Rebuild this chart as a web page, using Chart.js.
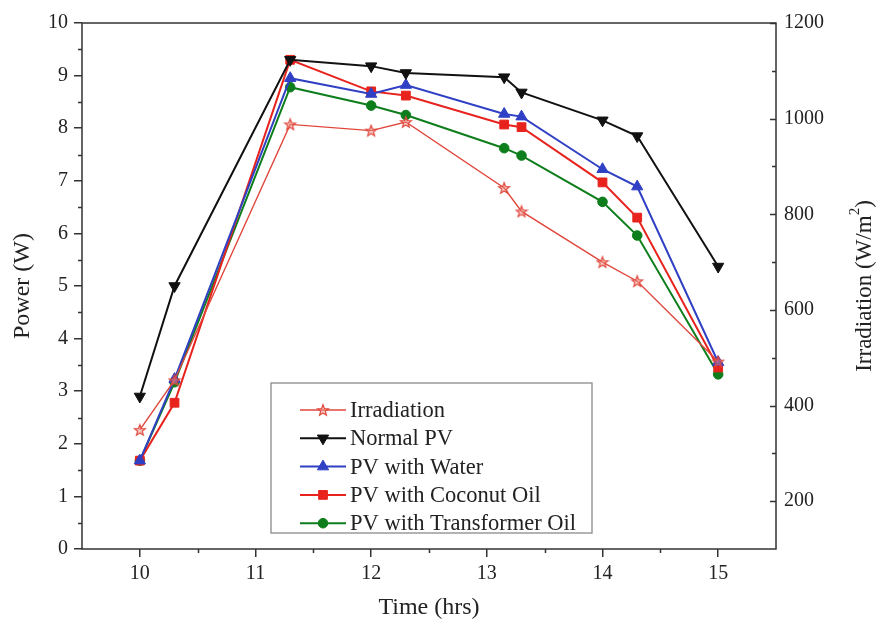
<!DOCTYPE html>
<html>
<head>
<meta charset="utf-8">
<script src="https://cdn.jsdelivr.net/npm/chart.js"></script>
<style>
  html, body { margin: 0; padding: 0; background: #fff; }
</style>
</head>
<body>
<canvas id="myChart" width="880" height="625"></canvas>
<script>
// time of day (hrs)
const times = [10, 10.3, 11.3, 12, 12.3, 13.15, 13.3, 14, 14.3, 15];
// power (W)
const normalPV = [2.9, 5.0, 9.3, 9.18, 9.05, 8.97, 8.68, 8.15, 7.85, 5.37];
const pvWater = [1.68, 3.23, 8.95, 8.65, 8.82, 8.27, 8.22, 7.22, 6.89, 3.55];
const pvCoconut = [1.68, 2.78, 9.3, 8.7, 8.62, 8.07, 8.02, 6.97, 6.3, 3.45];
const pvTransformer = [1.68, 3.17, 8.78, 8.43, 8.25, 7.62, 7.48, 6.6, 5.96, 3.32];
// irradiation (W/m2), right axis
const irradiation = [349, 453, 988, 975, 993, 855, 806, 700, 660, 492];

const xTicks = [10, 11, 12, 13, 14, 15];
const powerTicks = [0, 1, 2, 3, 4, 5, 6, 7, 8, 9, 10];
const irrTicks = [200, 400, 600, 800, 1000, 1200];

const serif = '"Liberation Serif", "Times New Roman", serif';
const axisColor = '#333';
const textColor = '#222';
const titleSize = 24;

function pts(values) {
  return times.map((t, i) => ({ x: t, y: values[i] }));
}

function makeStar(color) {
  const c = document.createElement('canvas');
  c.width = 14; c.height = 14;
  const g = c.getContext('2d');
  g.beginPath();
  for (let i = 0; i < 10; i++) {
    const r = i % 2 ? 2.4 : 5.8;
    const a = -Math.PI / 2 + i * Math.PI / 5;
    g.lineTo(7 + r * Math.cos(a), 7.5 + r * Math.sin(a));
  }
  g.closePath();
  g.fillStyle = 'rgba(240,150,140,0.45)';
  g.fill();
  g.strokeStyle = color;
  g.lineWidth = 1.2;
  g.stroke();
  return c;
}

const irrColor = '#e0473c';
const starImg = makeStar(irrColor);

const series = [
  { label: 'Irradiation', data: irradiation, axis: 'y2', color: irrColor, width: 1.4, style: starImg, radius: 6, rot: 0 },
  { label: 'Normal PV', data: normalPV, axis: 'y', color: '#111111', width: 2, style: 'triangle', radius: 6.5, rot: 180 },
  { label: 'PV with Water', data: pvWater, axis: 'y', color: '#3040c4', width: 2, style: 'triangle', radius: 6.5, rot: 0 },
  { label: 'PV with Coconut Oil', data: pvCoconut, axis: 'y', color: '#e8231e', width: 2, style: 'rect', radius: 6.2, rot: 0 },
  { label: 'PV with Transformer Oil', data: pvTransformer, axis: 'y', color: '#0e7e1c', width: 2, style: 'circle', radius: 4.8, rot: 0 }
];

function drawMarker(ctx, s, x, y) {
  if (typeof s.style !== 'string') {
    ctx.drawImage(s.style, x - s.style.width / 2, y - s.style.height / 2);
    return;
  }
  ctx.fillStyle = s.color;
  ctx.strokeStyle = s.color;
  ctx.lineWidth = 1;
  Chart.helpers.drawPoint(ctx, { pointStyle: s.style, rotation: s.rot, radius: s.radius, borderWidth: 1 }, x, y);
}

const extras = {
  id: 'extras',
  afterDraw(chart) {
    const { ctx, chartArea: a, scales } = chart;
    ctx.save();
    ctx.strokeStyle = axisColor;
    ctx.lineWidth = 1.5;
    ctx.beginPath();
    // minor ticks, left axis
    for (let v = 0.5; v < 10; v += 1) {
      const py = Math.round(scales.y.getPixelForValue(v)) + 0.5;
      ctx.moveTo(a.left, py); ctx.lineTo(a.left - 4, py);
    }
    // minor ticks, bottom axis
    for (let v = 10.5; v < 15.5; v += 1) {
      const px = Math.round(scales.x.getPixelForValue(v)) + 0.5;
      ctx.moveTo(px, a.bottom); ctx.lineTo(px, a.bottom + 4);
    }
    // inward ticks, right axis
    for (let v = 200; v <= 1200; v += 100) {
      const py = Math.round(scales.y2.getPixelForValue(v)) + 0.5;
      ctx.moveTo(a.right, py); ctx.lineTo(a.right - (v % 200 === 0 ? 6 : 4), py);
    }
    ctx.stroke();
    // frame
    ctx.strokeRect(a.left, a.top, a.right - a.left, a.bottom - a.top);

    // right axis title, reading bottom to top
    ctx.fillStyle = textColor;
    ctx.translate(865, (a.top + a.bottom) / 2);
    ctx.rotate(-Math.PI / 2);
    ctx.textBaseline = 'middle';
    const big = '23px ' + serif, small = '15px ' + serif;
    const p1 = 'Irradiation (W/m', p2 = '2', p3 = ')';
    ctx.font = big; const w1 = ctx.measureText(p1).width, w3 = ctx.measureText(p3).width;
    ctx.font = small; const w2 = ctx.measureText(p2).width;
    let tx = -(w1 + w2 + w3) / 2;
    ctx.textAlign = 'left';
    ctx.font = big; ctx.fillText(p1, tx, 0); tx += w1;
    ctx.font = small; ctx.fillText(p2, tx, -10); tx += w2;
    ctx.font = big; ctx.fillText(p3, tx, 0);
    ctx.setTransform(1, 0, 0, 1, 0, 0);

    // legend box
    const bx = a.left + 189, by = a.top + 360, bw = 321, bh = 150;
    ctx.fillStyle = '#fff';
    ctx.fillRect(bx, by, bw, bh);
    ctx.strokeStyle = '#8a8a8a';
    ctx.lineWidth = 1.3;
    ctx.strokeRect(bx, by, bw, bh);
    ctx.font = '22.5px ' + serif;
    ctx.textAlign = 'left';
    ctx.textBaseline = 'middle';
    series.forEach((s, i) => {
      const ry = by + 27 + i * 28.3;
      ctx.strokeStyle = s.color;
      ctx.lineWidth = s.width;
      ctx.beginPath();
      ctx.moveTo(bx + 29, ry); ctx.lineTo(bx + 75, ry);
      ctx.stroke();
      drawMarker(ctx, s, bx + 52, ry);
      ctx.fillStyle = textColor;
      ctx.fillText(s.label, bx + 79, ry + 1);
    });
    ctx.restore();
  }
};

const config = {
  type: 'line',
  data: {
    datasets: series.map(s => ({
      label: s.label,
      data: pts(s.data),
      yAxisID: s.axis,
      borderColor: s.color,
      backgroundColor: s.color,
      borderWidth: s.width,
      pointStyle: s.style,
      pointRadius: s.radius,
      pointRotation: s.rot,
      pointBackgroundColor: s.color,
      pointBorderColor: s.color,
      pointBorderWidth: 1,
      tension: 0,
      fill: false
    }))
  },
  options: {
    responsive: false,
    animation: false,
    layout: { padding: { top: 23, left: 0, right: 0, bottom: 0 } },
    plugins: { legend: { display: false }, tooltip: { enabled: false } },
    scales: {
      x: {
        type: 'linear',
        min: 9.5,
        max: 15.5,
        afterBuildTicks: s => { s.ticks = xTicks.map(v => ({ value: v })); },
        afterFit: s => { s.height = 76; },
        border: { display: false },
        grid: { drawOnChartArea: false, tickLength: 8, color: axisColor, lineWidth: 1.5 },
        ticks: { color: textColor, font: { family: serif, size: 20 }, padding: 5, maxRotation: 0 },
        title: { display: true, text: 'Time (hrs)', color: textColor, font: { family: serif, size: titleSize }, padding: { top: 0, bottom: 3 } }
      },
      y: {
        position: 'left',
        min: 0,
        max: 10,
        afterBuildTicks: s => { s.ticks = powerTicks.map(v => ({ value: v })); },
        afterFit: s => { s.width = 82; },
        border: { display: false },
        grid: { drawOnChartArea: false, tickLength: 8, color: axisColor, lineWidth: 1.5 },
        ticks: { color: textColor, font: { family: serif, size: 20 }, padding: 6 },
        title: { display: true, text: 'Power (W)', color: textColor, font: { family: serif, size: titleSize }, padding: { top: 8, bottom: 0 } }
      },
      y2: {
        position: 'right',
        min: 100,
        max: 1200,
        afterBuildTicks: s => { s.ticks = irrTicks.map(v => ({ value: v })); },
        afterFit: s => { s.width = 104; },
        border: { display: false },
        grid: { drawOnChartArea: false, drawTicks: false },
        ticks: { color: textColor, font: { family: serif, size: 20 }, padding: 8, callback: v => String(v) }
      }
    }
  },
  plugins: [extras]
};

const myChart = new Chart(document.getElementById('myChart'), config);
</script>
</body>
</html>
